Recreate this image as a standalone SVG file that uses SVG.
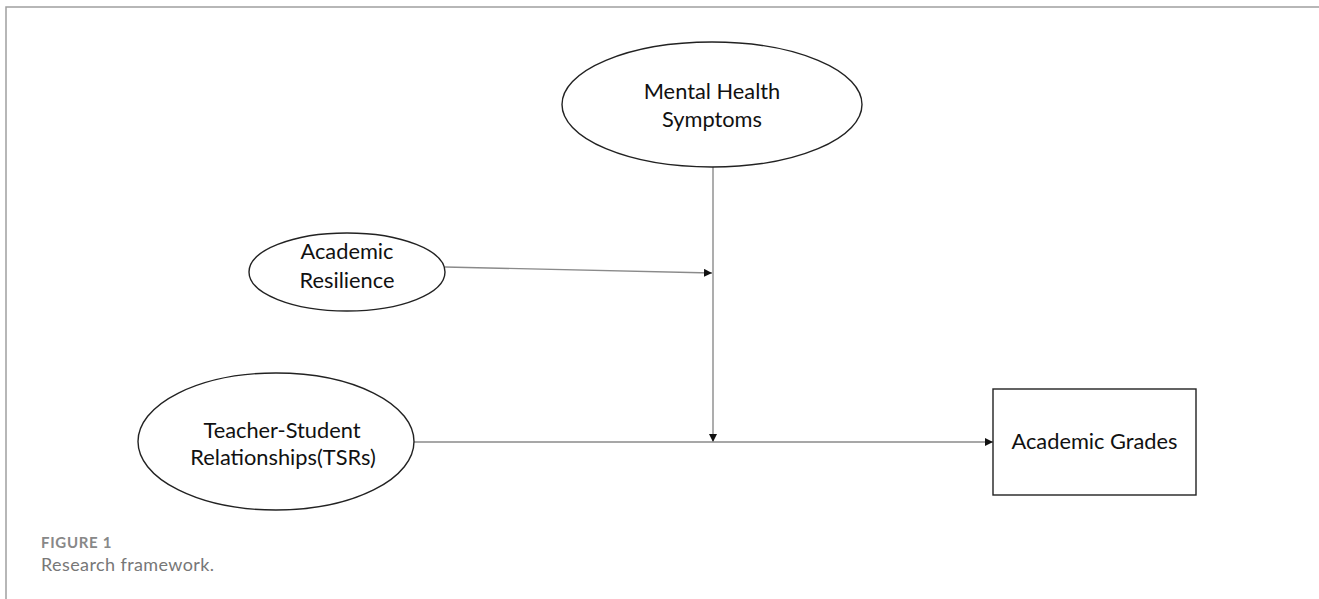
<svg xmlns="http://www.w3.org/2000/svg" width="1319" height="599" viewBox="0 0 1319 599">
<style>
.node{fill:#fff;stroke:#222;stroke-width:1.4}
.lbl{font-family:Lato,"Open Sans","Liberation Sans",sans-serif;font-size:21.8px;fill:#111;text-anchor:middle}
.conn{stroke:#8a8a8a;stroke-width:1.4;fill:none}
.cap1{font-family:Lato,"Open Sans",sans-serif;font-size:15px;font-weight:bold;fill:#888;letter-spacing:0.7px}
.cap2{font-family:Lato,"Open Sans",sans-serif;font-size:18px;fill:#777;letter-spacing:0.4px}
</style>
<defs>
<marker id="arr" viewBox="0 0 8 8" refX="8" refY="4" markerWidth="8" markerHeight="8" markerUnits="userSpaceOnUse" orient="auto">
<path d="M0,0 L8,4 L0,8 Z" fill="#111"/>
</marker>
</defs>
<rect x="0" y="0" width="1319" height="599" fill="#fff"/>
<path d="M6,599 V7 H1319" fill="none" stroke="#a0a0a0" stroke-width="1.5"/>
<g id="connectors">
<line class="conn" x1="713" y1="167" x2="713" y2="442" marker-end="url(#arr)"/>
<line class="conn" x1="445" y1="267" x2="712" y2="273" marker-end="url(#arr)"/>
<line class="conn" x1="414" y1="442" x2="993" y2="442" marker-end="url(#arr)"/>
</g>
<g id="mental-health">
<ellipse class="node" cx="712" cy="104.5" rx="150" ry="62.5"/>
<text class="lbl" x="712" y="99">Mental Health</text>
<text class="lbl" x="712" y="127">Symptoms</text>
</g>
<g id="academic-resilience">
<ellipse class="node" cx="347" cy="272" rx="98" ry="39"/>
<text class="lbl" x="347" y="259">Academic</text>
<text class="lbl" x="347" y="288">Resilience</text>
</g>
<g id="tsr">
<ellipse class="node" cx="276" cy="441.5" rx="138" ry="68.5"/>
<text class="lbl" x="282" y="438">Teacher-Student</text>
<text class="lbl" x="283" y="465">Relationships(TSRs)</text>
</g>
<g id="academic-grades">
<rect class="node" x="993" y="389" width="203" height="106"/>
<text class="lbl" x="1094.5" y="449">Academic Grades</text>
</g>
<g id="caption">
<text class="cap1" x="41" y="548">FIGURE 1</text>
<text class="cap2" x="41" y="571">Research framework.</text>
</g>
</svg>
